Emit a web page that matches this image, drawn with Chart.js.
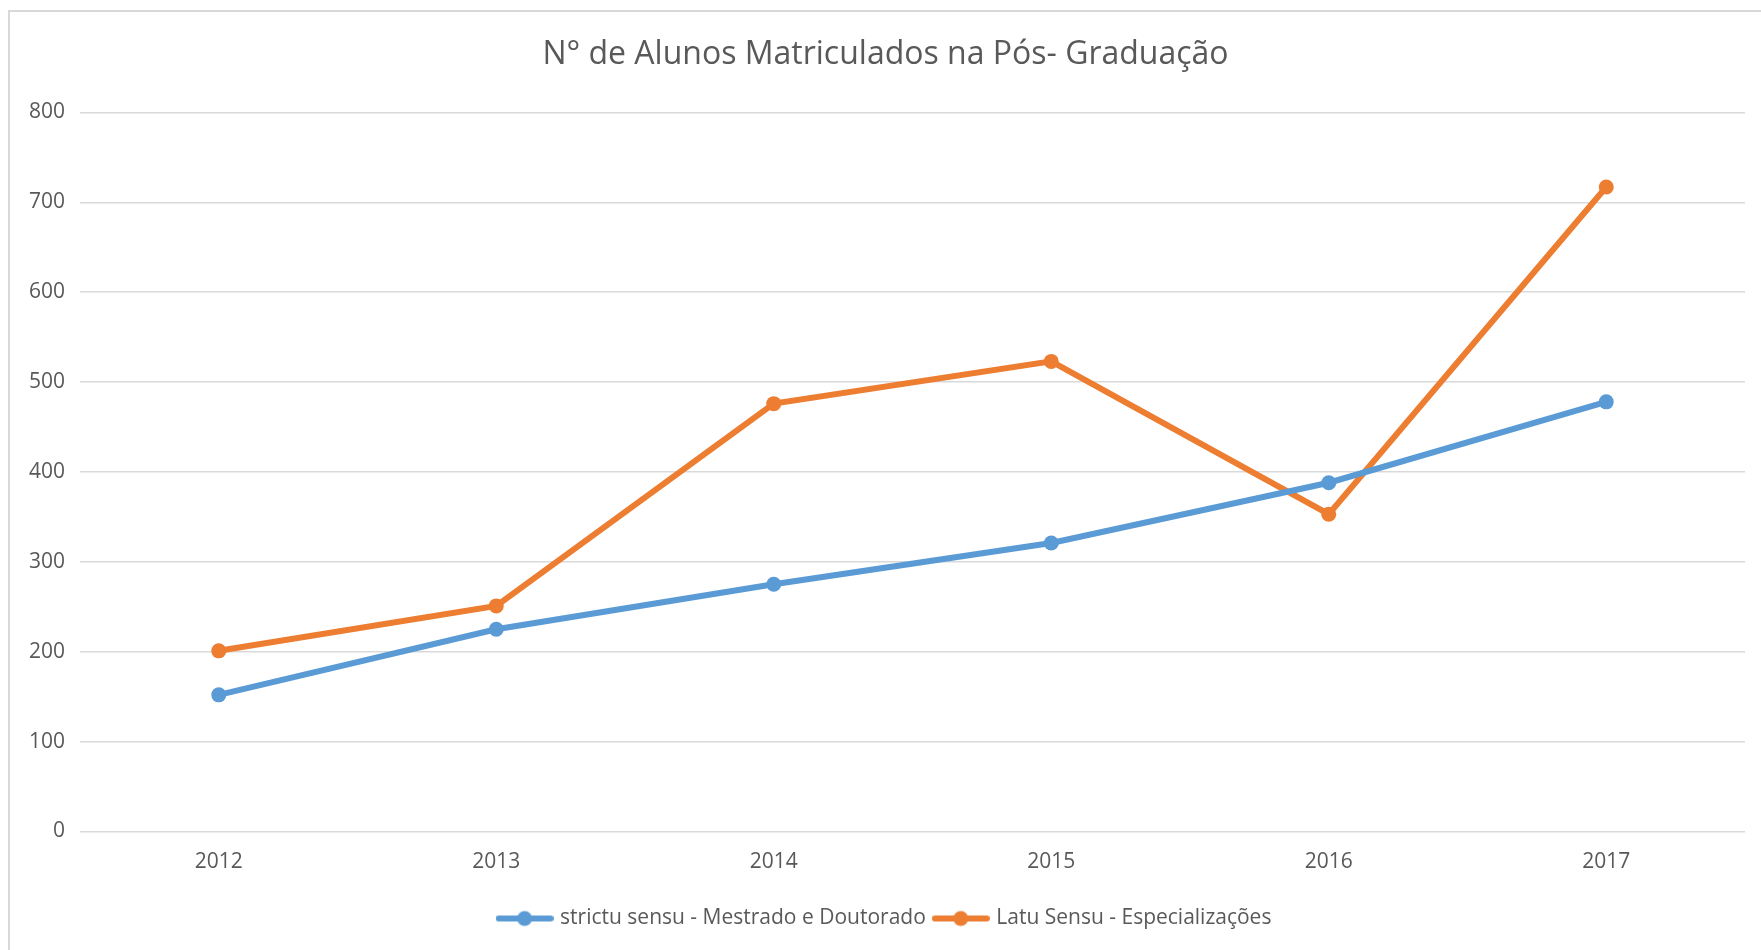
<!DOCTYPE html>
<html>
<head>
<meta charset="utf-8">
<script src="https://cdn.jsdelivr.net/npm/chart.js@4.4.1/dist/chart.umd.min.js"></script>
<style>
  html, body { margin: 0; padding: 0; background: #fff; }
  #wrap { position: relative; width: 1761px; height: 950px; overflow: hidden; }
  #frame { position: absolute; left: 8px; top: 10px; width: 1800px; height: 1000px; border: 2px solid #d9d9d9; }
  #chart { position: absolute; left: 0; top: 0; }
</style>
</head>
<body>
<div id="wrap">
  <div id="frame"></div>
  <canvas id="chart" width="1761" height="950"></canvas>
</div>
<script>
const years = ["2012", "2013", "2014", "2015", "2016", "2017"];
const strictuSensu = [152, 225, 275, 321, 388, 478];
const latuSensu = [201, 251, 476, 523, 353, 717];
const yMin = 0;
const yMax = 800;
const yStep = 100;

const blue = "#5b9bd5";
const orange = "#ed7d31";
const textColor = "#595959";

Chart.defaults.font.family = "'Open Sans', sans-serif";
Chart.defaults.color = textColor;

// legend swatch: short line with a dot, like the Excel legend
function legendMarker(color) {
  const c = document.createElement("canvas");
  c.width = 58;
  c.height = 18;
  const g = c.getContext("2d");
  g.strokeStyle = color;
  g.lineWidth = 6;
  g.lineCap = "round";
  g.beginPath();
  g.moveTo(3, 9);
  g.lineTo(55, 9);
  g.stroke();
  g.fillStyle = color;
  g.beginPath();
  g.arc(29, 9, 7.5, 0, Math.PI * 2);
  g.fill();
  return c;
}

const markers = [legendMarker(blue), legendMarker(orange)];

new Chart(document.getElementById("chart"), {
  type: "line",
  data: {
    labels: years,
    datasets: [
      {
        label: "strictu sensu - Mestrado e Doutorado",
        data: strictuSensu,
        borderColor: blue,
        backgroundColor: blue,
        borderWidth: 6,
        pointRadius: 7.5,
        pointBorderWidth: 0,
        tension: 0,
      },
      {
        label: "Latu Sensu - Especializações",
        data: latuSensu,
        borderColor: orange,
        backgroundColor: orange,
        borderWidth: 6,
        pointRadius: 7.5,
        pointBorderWidth: 0,
        tension: 0,
      },
    ],
  },
  options: {
    responsive: false,
    animation: false,
    layout: {
      padding: { left: 26, right: 16, top: 0, bottom: 11 },
    },
    plugins: {
      title: {
        display: true,
        text: "N° de Alunos Matriculados na Pós- Graduação",
        color: textColor,
        font: { size: 32, weight: "normal" },
        padding: { top: 36, bottom: 38 },
      },
      legend: {
        position: "bottom",
        labels: {
          color: textColor,
          font: { size: 21 },
          usePointStyle: true,
          pointStyleWidth: 50,
          padding: 10,
          generateLabels: (chart) =>
            Chart.defaults.plugins.legend.labels.generateLabels(chart).map((item, i) => ({
              ...item,
              pointStyle: markers[i],
            })),
        },
      },
      tooltip: { enabled: false },
    },
    scales: {
      x: {
        offset: true,
        grid: { display: false },
        border: { display: false },
        ticks: { color: textColor, font: { size: 21 }, padding: 10 },
        afterFit: (axis) => {
          axis.height = 66.5;
        },
      },
      y: {
        min: yMin,
        max: yMax,
        border: { display: false },
        grid: { color: "#d9d9d9", lineWidth: 1.5, drawTicks: false },
        ticks: { color: textColor, font: { size: 21 }, stepSize: yStep, padding: 15 },
        afterFit: (axis) => {
          axis.width = 54;
        },
      },
    },
  },
});
</script>
</body>
</html>
